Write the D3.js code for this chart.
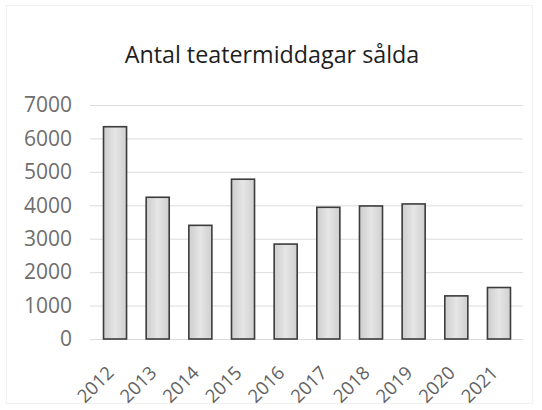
<!DOCTYPE html>
<html>
<head>
<meta charset="utf-8">
<script src="https://cdn.jsdelivr.net/npm/d3@7"></script>
<style>
  html, body { margin: 0; padding: 0; background: #fff; }
  svg { display: block; }
</style>
</head>
<body>
<svg id="chart" width="542" height="410"></svg>
<script>
const title = "Antal teatermiddagar sålda";
const years = ["2012","2013","2014","2015","2016","2017","2018","2019","2020","2021"];
const sold = [6350, 4240, 3400, 4780, 2840, 3940, 3980, 4040, 1290, 1540];
const yTicks = [0, 1000, 2000, 3000, 4000, 5000, 6000, 7000];

const svg = d3.select("#chart");

// faint outer frame, like the scanned chart border
svg.append("rect")
  .attr("x", 6.5).attr("y", 5.5).attr("width", 526).attr("height", 398)
  .attr("fill", "none").attr("stroke", "#f0f0f0").attr("stroke-width", 1);

const x = d3.scaleBand().domain(years).range([93.7, 520.3])
  .paddingInner(0.46).paddingOuter(0.23);
const y = d3.scaleLinear().domain([0, 7000]).range([339, 105]);

const defs = svg.append("defs");
const grad = defs.append("linearGradient").attr("id", "barGrad")
  .attr("x1", "0").attr("y1", "0").attr("x2", "1").attr("y2", "0");
grad.append("stop").attr("offset", "0%").attr("stop-color", "#cdcdcd");
grad.append("stop").attr("offset", "50%").attr("stop-color", "#e6e6e6");
grad.append("stop").attr("offset", "100%").attr("stop-color", "#cfcfcf");

// title
svg.append("text")
  .attr("x", 272).attr("y", 63)
  .attr("text-anchor", "middle")
  .attr("font-family", "'Open Sans', sans-serif")
  .attr("font-size", 23.3)
  .attr("fill", "#1e1e1e")
  .text(title);

// gridlines + y labels via axis
const yAxis = d3.axisLeft(y).tickValues(yTicks)
  .tickSize(-(523 - 90)).tickPadding(18).tickFormat(d3.format("d"));
const gy = svg.append("g").attr("transform", "translate(90,0)").call(yAxis);
gy.select(".domain").remove();
gy.selectAll(".tick line").attr("stroke", "#dcdcdc").attr("stroke-width", 1);
gy.selectAll(".tick text")
  .attr("font-family", "'Open Sans', sans-serif")
  .attr("font-size", 21)
  .attr("fill", "#6e6e6e");

// bars
svg.append("g").selectAll("rect")
  .data(years.map((yr, i) => ({yr, v: sold[i]})))
  .join("rect")
  .attr("x", d => x(d.yr))
  .attr("y", d => y(d.v))
  .attr("width", x.bandwidth())
  .attr("height", d => y(0) - y(d.v))
  .attr("fill", "url(#barGrad)")
  .attr("stroke", "#3c3c3c")
  .attr("stroke-width", 1.6);

// x axis labels
const xAxis = d3.axisBottom(x).tickSize(0).tickPadding(0);
const gx = svg.append("g").attr("transform", "translate(0,339)").call(xAxis);
gx.select(".domain").remove();
gx.selectAll(".tick text")
  .attr("font-family", "'Open Sans', sans-serif")
  .attr("font-size", 18.5)
  .attr("fill", "#626262")
  .attr("text-anchor", "end")
  .attr("dy", null)
  .attr("y", 0)
  .attr("transform", "translate(0,35) rotate(-45)");
</script>
</body>
</html>
